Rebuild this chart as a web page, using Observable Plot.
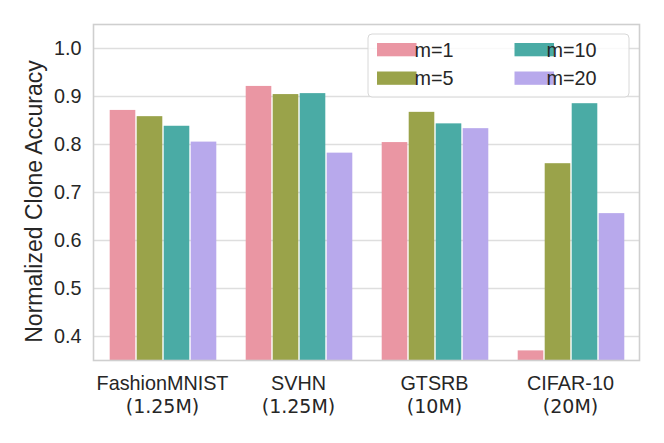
<!DOCTYPE html>
<html>
<head>
<meta charset="utf-8">
<script src="https://cdn.jsdelivr.net/npm/d3@7"></script>
<script src="https://cdn.jsdelivr.net/npm/@observablehq/plot@0.6"></script>
<style>
  html, body { margin: 0; padding: 0; background: #fff; }
  #chart { position: relative; width: 664px; height: 443px; }
  #chart > svg { position: absolute; left: 0; top: 0; }
</style>
</head>
<body>
<div id="chart"></div>
<script>
const datasets = ["FashionMNIST", "SVHN", "GTSRB", "CIFAR-10"];
const sizes = ["(1.25M)", "(1.25M)", "(10M)", "(20M)"];
const series = ["m=1", "m=5", "m=10", "m=20"];
const m1  = [0.871, 0.921, 0.804, 0.370];
const m5  = [0.858, 0.904, 0.867, 0.760];
const m10 = [0.838, 0.906, 0.843, 0.885];
const m20 = [0.805, 0.782, 0.833, 0.656];
const colors = ["#ea96a3", "#9aa34a", "#4aaba5", "#b8a9ec"];
const yTicks = [0.4, 0.5, 0.6, 0.7, 0.8, 0.9, 1.0];
const yDomain = [0.35, 1.05];
const yLabel = "Normalized Clone Accuracy";

const seriesValues = [m1, m5, m10, m20];
const rows = [];
datasets.forEach((d, i) => {
  series.forEach((s, j) => rows.push({dataset: d, m: s, value: seriesValues[j][i]}));
});
const labels = datasets.map((d, i) => ({dataset: d, size: sizes[i]}));

const textColor = "#262626";
const sans = "'Liberation Sans', Arial, sans-serif";
const layout = {width: 664, height: 443, marginLeft: 93, marginRight: 25, marginTop: 24, marginBottom: 83};
const band = {paddingInner: 0.2, paddingOuter: 0.1};

// Layer 1: background, grid, axes and labels
const baseLayer = Plot.plot({
  ...layout,
  style: {fontFamily: sans, fontSize: "19.8px", color: textColor, background: "#fff"},
  x: {domain: datasets, axis: null, ...band},
  y: {domain: yDomain, axis: null},
  marks: [
    Plot.ruleY(yTicks, {stroke: "#dedede", strokeWidth: 1.3}),
    Plot.axisY(yTicks, {tickSize: 0, tickPadding: 12, tickFormat: d3.format(".1f"), fontSize: 19.8, label: null, fill: textColor}),
    Plot.text([yLabel], {text: d => d, frameAnchor: "left", rotate: -90, lineAnchor: "bottom", textAnchor: "middle", dx: -52, dy: 9, fontSize: 23, fill: textColor, fontFamily: sans}),
    Plot.text(labels, {x: "dataset", text: "dataset", frameAnchor: "bottom", lineAnchor: "bottom", dy: 29, fontSize: 19.8, fill: textColor, fontFamily: sans}),
    Plot.text(labels, {x: "dataset", text: "size", frameAnchor: "bottom", lineAnchor: "bottom", dy: 52, fontSize: 19, fill: textColor, fontFamily: "'DejaVu Sans', sans-serif"})
  ]
});

// Layer 2: grouped bars (faceted by dataset)
const barLayer = Plot.plot({
  ...layout,
  style: {background: "transparent"},
  fx: {domain: datasets, axis: null, ...band},
  x: {domain: series, axis: null, padding: 0},
  y: {domain: yDomain, axis: null},
  color: {domain: series, range: colors},
  marks: [
    Plot.barY(rows, {fx: "dataset", x: "m", y: "value", fill: "m", clip: true, insetLeft: 0.7, insetRight: 0.7})
  ]
});

// Layer 3: frame + legend
const frameLayer = Plot.plot({
  ...layout,
  style: {fontFamily: sans, background: "transparent"},
  x: {domain: datasets, axis: null, ...band},
  y: {domain: yDomain, axis: null},
  marks: [
    Plot.frame({stroke: "#cfcfcf", strokeWidth: 1.6})
  ]
});

const chart = document.getElementById("chart");
chart.appendChild(baseLayer);
chart.appendChild(barLayer);
chart.appendChild(frameLayer);

// In-plot legend (upper right, 2 columns, column-major order)
const colorScale = barLayer.scale("color");
const lg = d3.select(frameLayer).append("g").attr("class", "legend");
lg.append("rect")
  .attr("x", 368).attr("y", 34).attr("width", 261).attr("height", 63)
  .attr("rx", 4).attr("ry", 4)
  .attr("fill", "#fff").attr("fill-opacity", 0.8)
  .attr("stroke", "#d8d8d8").attr("stroke-width", 1);
const colX = [377, 514.5];
const rowY = [43, 71.5];
series.forEach((s, k) => {
  const c = Math.floor(k / 2), r = k % 2;
  const g = lg.append("g");
  g.append("rect")
    .attr("x", colX[c]).attr("y", rowY[r]).attr("width", 39.5).attr("height", 13.3)
    .attr("fill", colorScale.apply(s));
  g.append("text")
    .attr("x", colX[c] + 57).attr("y", rowY[r] + 6.7)
    .attr("dy", "0.35em")
    .attr("font-size", 19.8)
    .attr("font-family", sans)
    .attr("fill", textColor)
    .text(s);
});
</script>
</body>
</html>
